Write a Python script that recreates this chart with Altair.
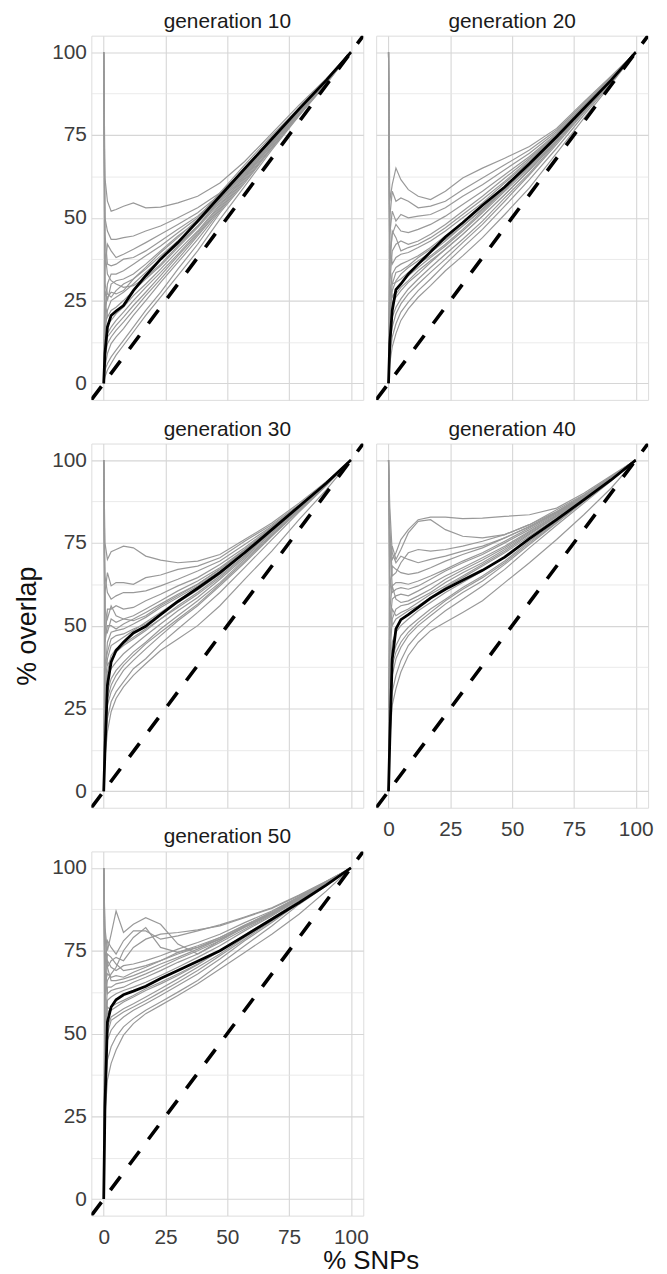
import altair as alt
import pandas as pd

XS = [0, 0.5, 1.5, 3, 5, 8, 12, 17, 23, 30, 38, 47, 57, 68, 79, 90, 100]

# y = x reference line end points
DIAG = [-5, 105]

GENERATIONS = ["generation 10", "generation 20", "generation 30", "generation 40", "generation 50"]

# ---- mean curves (black) ----
MEAN_G10 = [0, 9, 17, 20.5, 21.8, 23.5, 28, 32.5, 37.5, 42.5, 49, 56.5, 64.8, 73.8, 82.8, 91.5, 100]
MEAN_G20 = [0, 12, 22, 28.3, 30, 33, 36, 39.7, 44.2, 48.5, 53.8, 59.3, 66.3, 74.5, 83, 91.5, 100]
MEAN_G30 = [0, 12, 32, 39, 42.5, 45, 47.8, 49.8, 53.3, 57.3, 61.3, 66, 72, 79, 86, 93, 100]
MEAN_G40 = [0, 15, 40, 49, 51.8, 53.3, 55.5, 58.3, 61, 63.7, 66.7, 70.7, 76.3, 82, 88, 94, 100]
MEAN_G50 = [0, 28, 53.5, 58, 60.2, 61.7, 62.8, 64.3, 66.6, 69, 71.8, 75, 79.5, 84.5, 89.5, 94.8, 100]

# ---- replicate curves (grey) ----
REPS_G10 = [
    [100, 62, 55, 52, 52.5, 53.5, 54.5, 53, 53.2, 54.5, 56.5, 60.5, 67, 75.5, 84, 92, 100],
    [100, 50, 46, 43.5, 43.5, 44, 44.5, 46, 47.5, 50, 53, 57.5, 64.5, 74, 83, 91.5, 100],
    [0, 35, 42, 40, 38, 39, 40.5, 42.5, 45, 48, 51.5, 57, 64.5, 73.5, 82.5, 91.5, 100],
    [100, 45, 36, 35.5, 36, 37.5, 38, 40, 43, 46.5, 50.5, 56.5, 65, 74.2, 83, 91.3, 100],
    [0, 20, 30, 33, 33, 34, 36, 38.5, 41.5, 45.5, 50, 57.5, 66, 74.8, 83.2, 91.6, 100],
    [0, 28, 25, 30, 31, 31.5, 33, 36, 40, 44.5, 49, 56, 64, 73.5, 82.5, 91.2, 100],
    [100, 30, 27, 26, 28, 30, 31.5, 34.5, 38.5, 43, 48.5, 55.5, 63.5, 73, 82, 91, 100],
    [0, 15, 22, 25, 26, 27.5, 30, 33.5, 37.5, 42, 47.5, 55, 63.5, 72.8, 82.2, 91.2, 100],
    [0, 25, 20, 22, 23, 25, 28, 31.5, 35.5, 41, 47, 54.5, 63, 72.5, 82, 91, 100],
    [0, 12, 18, 19, 21, 23, 26.5, 30, 34.5, 40, 46, 54, 62.5, 72.5, 82, 91, 100],
    [100, 18, 15, 17, 19, 21.5, 25, 29, 33.5, 39, 45.5, 53.5, 62.5, 72, 81.7, 90.8, 100],
    [0, 10, 14, 15.5, 17.5, 20, 23.5, 27.5, 32.5, 38.5, 45, 53, 62, 72, 81.6, 90.8, 100],
    [0, 8, 12, 14, 16, 18.5, 22, 26.5, 31.5, 37.5, 44.5, 52.5, 61.5, 71.5, 81.4, 90.7, 100],
    [0, 5, 9, 12, 14, 16.5, 20.5, 25, 30.5, 36.5, 43.5, 52, 61, 71.2, 81.2, 90.6, 100],
    [0, 4, 6, 8, 10, 13, 17, 22, 27.5, 34.5, 42, 51.5, 60.5, 71, 81, 90.5, 100],
    [0, 2, 4, 6, 8.5, 11.5, 15.5, 20.5, 26, 32.5, 40, 49.5, 59.5, 70.5, 80.8, 90.4, 100],
    [100, 40, 33, 31, 30, 29, 29.5, 32, 36, 41.5, 47.5, 55.5, 64, 73.3, 82.5, 91.3, 100],
    [0, 22, 26, 27.5, 27, 28, 31.5, 35, 39.5, 44, 49.5, 56.8, 64.8, 74, 83, 91.5, 100],
]
REPS_G20 = [
    [100, 55, 60, 65, 61.5, 58.5, 56.5, 55.5, 58, 62, 65, 68, 71.5, 77, 85, 92.8, 100],
    [0, 50, 58, 55, 56, 55, 53, 53.5, 55, 58.5, 62, 66, 70.5, 76.5, 84.5, 92.5, 100],
    [100, 45, 52, 49, 51, 50, 50.5, 51, 53, 56.5, 60, 64.5, 69.5, 76, 84, 92.3, 100],
    [0, 38, 45, 48, 46, 45.5, 46.5, 48, 50.5, 54, 58, 63, 68.5, 75.5, 83.8, 92.2, 100],
    [0, 30, 40, 42, 43, 42, 43, 45, 48, 52, 56.5, 62, 68, 75.2, 83.5, 92, 100],
    [100, 42, 36, 38, 39, 39.5, 41, 43, 46, 50, 54.5, 60.5, 67, 74.8, 83.3, 91.8, 100],
    [0, 25, 33, 35, 36, 37, 38.5, 41, 44.5, 48.5, 53.5, 59.5, 66.5, 74.5, 83, 91.7, 100],
    [0, 20, 28, 31, 33, 35, 37, 39.5, 43, 47.5, 52.5, 58.5, 65.5, 74, 82.8, 91.5, 100],
    [0, 30, 26, 28, 30, 32.5, 35, 38, 41.5, 46, 51.5, 58, 65, 73.5, 82.5, 91.4, 100],
    [100, 28, 24, 26, 28, 30.5, 33, 36.5, 40.5, 45, 50.5, 57, 64.5, 73.2, 82.3, 91.3, 100],
    [0, 15, 20, 23, 25.5, 28.5, 31.5, 35, 39, 43.5, 49, 56, 63.5, 72.7, 82, 91.2, 100],
    [0, 12, 17, 21, 24, 27, 30, 33.5, 37.5, 42.5, 48, 55, 63, 72.2, 81.7, 91, 100],
    [0, 8, 14, 18, 21.5, 24.5, 28, 31.5, 36, 41, 46.5, 53.5, 61.5, 71, 81, 90.7, 100],
    [0, 6, 11, 15, 19, 22.5, 26, 29.5, 34, 38.5, 44, 51, 59, 69.5, 80, 90.3, 100],
    [100, 35, 30, 30.5, 31.5, 33.5, 36, 38.5, 42, 46.5, 52, 58.5, 65.8, 74, 82.7, 91.5, 100],
    [0, 22, 30, 33.5, 34, 35.5, 38, 40.5, 43.5, 47.5, 52.8, 59, 66, 74.2, 82.8, 91.6, 100],
    [100, 35, 46, 44, 40, 41, 42, 44, 47, 51, 55.5, 61, 67.5, 75, 83.6, 91.9, 100],
    [0, 18, 24, 27, 29, 31, 34, 37, 40.5, 45, 50.5, 57, 64.3, 73, 82.2, 91.3, 100],
]
REPS_G30 = [
    [100, 75, 70, 72.3, 73, 74, 73.5, 71, 69.8, 69, 69.5, 71.5, 76, 81, 87, 93.5, 100],
    [0, 60, 66, 62, 63, 63, 62.5, 64.5, 65.3, 67, 68, 70.5, 75.5, 80.5, 86.5, 93.3, 100],
    [100, 65, 60, 58, 59, 60, 60, 60.5, 62, 64, 66.5, 69.5, 74.5, 80, 86.3, 93.2, 100],
    [0, 45, 55, 55, 56, 55, 55.5, 57.5, 59.5, 62, 64.5, 68.5, 73.5, 79.8, 86.2, 93.1, 100],
    [100, 50, 48, 52, 51, 52, 53, 55, 57.5, 60.5, 63.5, 67.5, 73, 79.5, 86, 93, 100],
    [0, 35, 45, 48, 48.5, 49, 50.5, 52.5, 55.5, 58.5, 62, 66.5, 72.5, 79.2, 85.8, 92.9, 100],
    [0, 30, 40, 44, 45, 46.5, 48.5, 51, 54, 57.5, 61, 66, 72, 79, 85.7, 92.8, 100],
    [100, 40, 38, 40, 42, 44, 46, 48.5, 52, 55.5, 59.5, 64.5, 71, 78.5, 85.5, 92.8, 100],
    [0, 25, 35, 37, 39, 41.5, 44, 47, 50.5, 54.5, 58.5, 64, 70.5, 78, 85.2, 92.6, 100],
    [0, 20, 30, 34, 36.5, 39, 42, 45, 49, 53, 57.5, 63, 70, 77.5, 85, 92.5, 100],
    [0, 15, 26, 30, 33, 36.5, 39.5, 43, 47, 51.5, 56, 62, 69, 77, 84.7, 92.4, 100],
    [0, 12, 22, 27, 30, 33, 37, 40, 44.5, 49, 54, 60, 67.5, 76, 84.3, 92.2, 100],
    [0, 10, 18, 24, 28, 31.5, 35, 38.5, 42.5, 46, 50, 56, 64, 72.5, 82, 91, 100],
    [100, 55, 52, 56, 53, 52, 51.5, 53, 56, 59, 62.5, 67, 72.8, 79.3, 86, 93, 100],
    [0, 38, 42, 46, 47, 47.5, 49, 50.5, 53.5, 57, 60.8, 65.5, 71.8, 78.8, 85.6, 92.8, 100],
    [0, 30, 36, 41, 43, 44.5, 46.5, 49, 52, 56, 60, 65, 71.2, 78.5, 85.4, 92.7, 100],
    [100, 45, 50, 50, 49, 50.5, 52, 54, 56.5, 59.5, 62.5, 67, 72.8, 79.4, 86.1, 93, 100],
    [0, 20, 28, 32, 35, 38, 41, 44.5, 48, 52, 56.5, 62.5, 69.5, 77.3, 84.9, 92.5, 100],
]
REPS_G40 = [
    [100, 78, 70, 72, 76, 79, 82, 82.8, 82.8, 82.3, 82.5, 83, 83.5, 85.5, 90, 95.3, 100],
    [0, 70, 74, 70, 73, 78, 81.5, 82, 79, 77, 76.5, 77.5, 80.5, 85, 89.5, 95, 100],
    [100, 80, 65, 66, 69, 72, 73, 72.5, 73, 74, 75.5, 77.5, 80.5, 84.5, 89.3, 94.9, 100],
    [0, 60, 68, 67, 66, 65.5, 66, 67.5, 69.5, 71.5, 73.5, 76.5, 80, 84.3, 89.2, 94.8, 100],
    [100, 75, 62, 63, 63, 62.5, 63.5, 65, 67, 69.5, 72, 75.5, 79.5, 84, 89, 94.7, 100],
    [0, 50, 58, 59, 59.5, 59, 60.5, 62.5, 65, 67.5, 70.5, 74, 78.5, 83.5, 88.8, 94.6, 100],
    [0, 40, 52, 55, 56, 56.5, 58, 60, 63, 66, 69, 73, 77.8, 83, 88.5, 94.5, 100],
    [100, 55, 50, 52, 53, 54.5, 56, 58.5, 61.5, 64.5, 68, 72, 77, 82.5, 88.2, 94.3, 100],
    [0, 35, 45, 48, 50, 52, 54.5, 57, 60, 63, 66.5, 70.8, 76.2, 82, 88, 94.2, 100],
    [0, 30, 40, 44, 47, 49.5, 52, 55, 58, 61.5, 65, 69.5, 75.5, 81.5, 87.7, 94, 100],
    [0, 25, 35, 40, 43.5, 47, 50, 53, 56.5, 60, 63.5, 68.5, 74.5, 81, 87.5, 93.9, 100],
    [0, 20, 30, 35, 39.5, 44, 47.5, 51, 54.5, 58, 62, 67, 73.5, 80.3, 87, 93.7, 100],
    [0, 16, 26, 31, 36, 41, 45, 48.5, 51, 54, 57.5, 63, 69, 76, 83.5, 91.5, 100],
    [100, 65, 60, 61, 61.5, 61, 62, 64, 66.5, 69, 71.5, 75, 79, 83.8, 88.9, 94.7, 100],
    [0, 55, 62, 58, 57, 57.5, 59, 61, 64, 66.8, 69.8, 73.5, 78.2, 83.3, 88.7, 94.5, 100],
    [0, 45, 55, 53, 54, 55, 57, 59.5, 62, 65, 68.5, 72.5, 77.5, 83, 88.4, 94.4, 100],
    [100, 86, 72, 69, 71, 70, 69, 70, 71, 72.5, 74, 76.5, 79.8, 84.2, 89.1, 94.8, 100],
    [0, 28, 38, 42, 45, 48, 51, 54, 57.5, 61, 64.5, 69, 75, 81.2, 87.6, 94, 100],
]
REPS_G50 = [
    [100, 82, 75, 80, 87, 80.5, 83, 85, 83, 77, 74, 78, 82.5, 86.8, 91.2, 95.8, 100],
    [0, 70, 78, 76, 74, 78, 81, 81, 78.5, 79.5, 81, 82.8, 85.2, 88, 91.8, 96, 100],
    [100, 75, 70, 72, 73, 72, 76, 78.5, 80, 80.5, 81.3, 82.5, 85, 87.8, 91.6, 95.9, 100],
    [0, 60, 72, 70, 69, 70.5, 71, 72, 73.5, 75.5, 77.5, 80, 83.5, 87, 91.3, 95.8, 100],
    [100, 65, 68, 67, 67.5, 67, 68.5, 70, 72, 74.5, 76.5, 79, 82.8, 86.5, 91, 95.7, 100],
    [0, 50, 64, 64, 65, 65.5, 66.5, 68, 70, 72.5, 75, 78, 82, 86, 90.8, 95.5, 100],
    [0, 45, 60, 61, 62, 63, 64, 65.5, 67.5, 70, 73, 76.5, 81, 85.5, 90.5, 95.4, 100],
    [100, 55, 56, 58, 59, 60, 61.5, 63.5, 65.5, 68, 71, 75, 79.8, 84.8, 90.2, 95.2, 100],
    [0, 40, 52, 55, 56, 57.5, 59, 61, 63.5, 66.5, 70, 74, 79, 84.2, 89.8, 95, 100],
    [0, 35, 48, 51, 53, 55, 57, 59, 61.5, 64.5, 68, 72.5, 78, 83.5, 89.4, 94.8, 100],
    [0, 30, 42, 46, 49, 52, 54.5, 57, 59.5, 62.5, 66, 71, 76.5, 82.5, 89, 94.6, 100],
    [0, 25, 36, 41, 45, 49.5, 53, 56, 58.5, 61.5, 65, 69.5, 74.5, 80, 86, 93, 100],
    [100, 70, 62, 63, 63.5, 64, 65.5, 67, 69, 71.5, 74, 77.5, 81.5, 85.8, 90.6, 95.5, 100],
    [0, 65, 74, 73, 71, 69, 69.5, 70.5, 72, 74, 76, 79, 82.6, 86.3, 90.9, 95.6, 100],
    [100, 80, 70, 66, 66, 66.5, 67.5, 69, 71, 73, 75.5, 78.5, 82.3, 86.2, 90.9, 95.6, 100],
    [0, 50, 58, 57, 58, 59.5, 61, 63, 65, 67.5, 70.8, 75, 79.5, 84.5, 90, 95.1, 100],
    [0, 38, 50, 54, 55, 56.5, 58, 60, 62.5, 65.5, 69, 73.5, 78.5, 84, 89.6, 94.9, 100],
    [100, 60, 66, 68, 70, 75, 79, 82, 76, 74.5, 76, 78.5, 82.2, 86.2, 90.9, 95.6, 100],
]

# axis grid positions (major every 25, minor in between)
GRID_VALUES = [0, 12.5, 25, 37.5, 50, 62.5, 75, 87.5, 100]

FONT = "Liberation Sans"
PANEL_W = 274
PANEL_H = 367


def grid_axis(show_labels, title=None, **kw):
    args = dict(
        values=GRID_VALUES,
        labelExpr="datum.value % 25 === 0 ? datum.label : ''",
        labels=show_labels,
        ticks=False,
        domain=False,
        gridColor={"condition": {"test": "datum.value % 25 === 0", "value": "#d6d6d6"}, "value": "#e4e4e4"},
        gridWidth={"condition": {"test": "datum.value % 25 === 0", "value": 1.1}, "value": 0.8},
        labelFont=FONT,
        labelFontSize=21,
        labelColor="#3d3d3d",
        title=title,
    )
    args.update(kw)
    return alt.Axis(**args)


def panel(name, reps, mean, y_labels, x_labels, y_title=None):
    rep_rows = []
    for i, rep in enumerate(reps):
        for x, y in zip(XS, rep):
            rep_rows.append({"snp": x, "overlap": y, "rep": i})
    rep_df = pd.DataFrame(rep_rows)
    mean_df = pd.DataFrame({"snp": XS, "overlap": mean})
    diag_df = pd.DataFrame({"snp": DIAG, "overlap": DIAG})

    xscale = alt.Scale(domain=[-5, 105], nice=False, zero=False)
    yscale = alt.Scale(domain=[-5, 105], nice=False, zero=False)
    xaxis = grid_axis(x_labels, labelPadding=11)
    yaxis = grid_axis(
        y_labels, title=y_title, labelPadding=5, titleFont=FONT, titleFontSize=27,
        titleFontWeight="normal", titleColor="#111111", titlePadding=10,
    )

    grey = alt.Chart(rep_df).mark_line(color="#999999", strokeWidth=1.2, clip=True).encode(
        x=alt.X("snp:Q", scale=xscale, axis=xaxis),
        y=alt.Y("overlap:Q", scale=yscale, axis=yaxis),
        detail="rep:N",
    )
    black = alt.Chart(mean_df).mark_line(color="black", strokeWidth=2.8, clip=True).encode(
        x="snp:Q", y="overlap:Q"
    )
    dashed = alt.Chart(diag_df).mark_line(
        color="black", strokeWidth=3.6, strokeDash=[17, 15], clip=True
    ).encode(x="snp:Q", y="overlap:Q")

    return alt.layer(grey, black, dashed).properties(
        width=PANEL_W,
        height=PANEL_H,
        title=alt.TitleParams(
            name, font=FONT, fontSize=21, fontWeight="normal", color="#1a1a1a",
            anchor="middle", offset=4,
        ),
    )


p10 = panel(GENERATIONS[0], REPS_G10, MEAN_G10, True, False)
p20 = panel(GENERATIONS[1], REPS_G20, MEAN_G20, False, False)
p30 = panel(GENERATIONS[2], REPS_G30, MEAN_G30, True, False, y_title="% overlap")
p40 = panel(GENERATIONS[3], REPS_G40, MEAN_G40, False, True)
p50 = panel(GENERATIONS[4], REPS_G50, MEAN_G50, True, True)

col1 = alt.vconcat(p10, p30, p50, spacing=17)
col2 = alt.vconcat(p20, p40, spacing=17)

chart = alt.hconcat(col1, col2, spacing=6).properties(
    title=alt.TitleParams(
        "% SNPs", orient="bottom", anchor="middle", font=FONT, fontSize=26,
        fontWeight="normal", color="#111111", offset=0, dx=38,
    ),
    padding={"left": 5, "top": -3, "right": 5, "bottom": 2},
).configure_view(stroke=None).configure(background="white")

chart.save("out.html", embed_options={"renderer": "svg", "actions": False})
